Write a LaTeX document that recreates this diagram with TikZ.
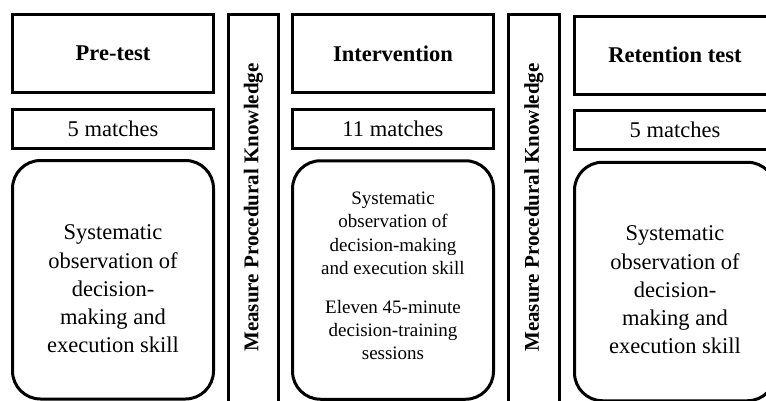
\documentclass[tikz,border=0pt]{standalone}
\usepackage{fontspec}
\setmainfont{Liberation Serif}
\begin{document}
\begin{tikzpicture}[x=1pt,y=-1pt,
  box/.style={draw,line width=3pt,rectangle,inner sep=0pt,minimum width=201pt},
  titlebox/.style={box,minimum height=78pt,font=\fontsize{22.5}{27}\selectfont\bfseries},
  matchbox/.style={box,minimum height=39pt,font=\fontsize{22.5}{27}\selectfont},
  roundbox/.style={box,rounded corners=28pt,minimum height=238.5pt},
  bar/.style={box,minimum width=50pt,minimum height=405.5pt},
  bartext/.style={rotate=90,inner sep=0pt,font=\fontsize{21}{25}\selectfont\bfseries},
  bigtext/.style={align=center,inner sep=0pt,font=\fontsize{22.5}{28.3}\selectfont},
  smalltext/.style={align=center,inner sep=0pt,font=\fontsize{19}{23.3}\selectfont}
]
\useasboundingbox (0,0) rectangle (766,400);
\clip (0,0) rectangle (766,400);
% column 1
\node[titlebox] (t1) at (113,53.5) {Pre-test};
\node[matchbox] (n1) at (113,129) {5 matches};
\node[roundbox] (r1) at (113,279.75) {};
\node[bigtext] (s1) at (113,289) {Systematic\\observation of\\decision-\\making and\\execution skill};
% bar 1
\node[bar] (m1) at (253.5,217.25) {};
\node[bartext] (m1t) at (253.5,207.5) {Measure Procedural Knowledge};
% column 2
\node[titlebox] (t2) at (393,53.5) {Intervention};
\node[matchbox] (n2) at (393,129) {11 matches};
\node[roundbox] (r2) at (393,280) {};
\node[smalltext] (s2) at (393,276) {Systematic\\observation of\\decision-making\\and execution skill\\[15.7pt]Eleven 45-minute\\decision-training\\sessions};
% bar 2
\node[bar,minimum width=51pt] (m2) at (534,217.25) {};
\node[bartext] (m2t) at (534,207.5) {Measure Procedural Knowledge};
% column 3
\node[titlebox] (t3) at (675,55) {Retention test};
\node[matchbox] (n3) at (675,130) {5 matches};
\node[roundbox] (r3) at (675,281.5) {};
\node[bigtext] (s3) at (675,290) {Systematic\\observation of\\decision-\\making and\\execution skill};
\end{tikzpicture}
\end{document}
